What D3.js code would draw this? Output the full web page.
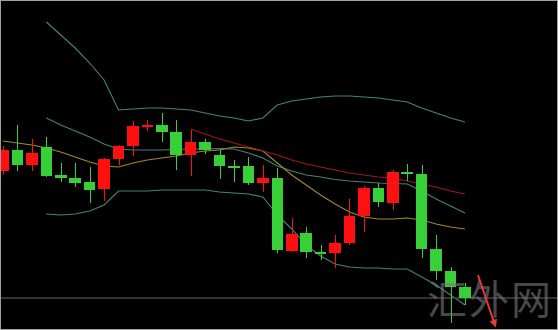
<!DOCTYPE html>
<html lang="zh">
<head>
  <meta charset="UTF-8" />
  <title>K线图</title>
  <script src="https://d3js.org/d3.v7.min.js"></script>
  <style>
    html, body {
      margin: 0;
      padding: 0;
      background: #000;
      overflow: hidden;
    }
    svg { display: block; }
    .wick { stroke-width: 1; shape-rendering: crispEdges; }
    .body { shape-rendering: crispEdges; }
  </style>
</head>
<body>
<svg id="chart" width="558" height="330"></svg>
<script>
// price points (no axis shown, so units are arbitrary)
const opens  = [159,180,165,183,155,152,148,141,171,184,203,205,198,175,188,175,164,164,147,152,79,97,78,77,87,114,142,127,158,156,81,59,43];
const highs  = [184,205,191,193,167,167,163,172,185,209,210,217,210,200,191,180,170,173,165,162,112,103,85,95,131,144,147,160,166,165,95,63,47];
const lows   = [155,159,159,153,148,143,127,129,165,174,199,188,160,154,176,151,148,145,138,77,78,72,70,62,85,98,123,120,149,72,50,7,25];
const closes = [180,165,177,154,152,147,140,171,184,204,205,198,175,188,180,164,162,147,152,80,96,78,76,87,114,142,128,158,156,81,59,43,32];

// Bollinger bands, start at bar 3
const bandStart = 3;
const upperBand = [308,295,282,267,250,220,221,222,222,221,220,217,214,212,209,212,225,229,231,233,234,234,233,232,230,228,222,217,212,208];
const midBand   = [212,205,199,193,186,181,180,180,180,180.5,181,181,181.5,181,177,172,164,159,155,153,150.5,149,148,147,146.5,146,139,131,124,117];
const lowerBand = [116,115,116,119,125,139,139,139,140,140,140,140,138,137,136,133,115,101,85,74,66,63,62,62,61,61,53,45,35,25];

// slow MA (red) starts at bar 13, fast MA (yellow) covers all bars
const slowStart = 13;
const slowMA = [201,196,191,187,183,179,175,170,166,163,160,157,155,153,152,149,146,143,139,136];
const fastMA = [189,187,185,182,178,173,168,164,163,167,170,172,174,177,179,180,183,182,179,167,155,145,135,126,118,113,111,111,112,110,106,103,101];

// arrow annotation (bar index, price)
const arrowFrom = [32.9, 55];
const arrowTo   = [34.1, 4];

const watermark = "汇外网";

const svg = d3.select("#chart");
const width = +svg.attr("width"), height = +svg.attr("height");

const bars = d3.range(opens.length);
const x = d3.scaleBand().domain(bars).range([-4.2, 472.2]).paddingInner(0.2).paddingOuter(0.1);
const xc = d3.scaleLinear().domain([0, 1]).range([x(0) + x.bandwidth() / 2, x(1) + x.bandwidth() / 2]);
const y = d3.scaleLinear().domain([0, 330]).range([height, 0]);

svg.append("rect").attr("width", width).attr("height", height).attr("fill", "#000");

function series(vals, start) {
  return vals.map((v, k) => ({ i: k + start, v }));
}
const line = d3.line().x(d => xc(d.i)).y(d => y(d.v)).curve(d3.curveLinear);

const lines = svg.append("g").attr("fill", "none");
[upperBand, midBand, lowerBand].forEach(b => {
  lines.append("path").datum(series(b, bandStart)).attr("d", line)
    .attr("stroke", "#3f8676").attr("stroke-width", 1.1);
});
lines.append("path").datum(series(fastMA, 0)).attr("d", line)
  .attr("stroke", "#a38a22").attr("stroke-width", 1.1);
lines.append("path").datum(series(slowMA, slowStart)).attr("d", line)
  .attr("stroke", "#a01818").attr("stroke-width", 1.1);

// bid line at last close
svg.append("line")
  .attr("x1", 0).attr("x2", width)
  .attr("y1", y(closes[closes.length - 1])).attr("y2", y(closes[closes.length - 1]))
  .attr("stroke", "#444").attr("stroke-width", 1.5);

const candles = svg.append("g");
const up = i => closes[i] >= opens[i];
const col = i => up(i) ? "#ff1010" : "#38d038";

candles.selectAll("line.wick").data(bars).enter().append("line")
  .attr("class", "wick")
  .attr("x1", i => Math.round(xc(i)) + 0.5).attr("x2", i => Math.round(xc(i)) + 0.5)
  .attr("y1", i => y(highs[i])).attr("y2", i => y(lows[i]))
  .attr("stroke", col);

candles.selectAll("rect.body").data(bars).enter().append("rect")
  .attr("class", "body")
  .attr("x", i => x(i))
  .attr("width", x.bandwidth())
  .attr("y", i => y(Math.max(opens[i], closes[i])))
  .attr("height", i => Math.max(2, Math.abs(y(opens[i]) - y(closes[i]))))
  .attr("fill", col);

// watermark
svg.append("text")
  .attr("x", 427).attr("y", 314)
  .attr("font-family", "'Noto Sans CJK SC', sans-serif")
  .attr("font-size", 40)
  .attr("letter-spacing", 2)
  .attr("fill", "#7a7a7a")
  .attr("fill-opacity", 0.6)
  .text(watermark);

// arrow
svg.append("defs").append("marker")
  .attr("id", "head").attr("viewBox", "0 0 10 10")
  .attr("refX", 8).attr("refY", 5)
  .attr("markerWidth", 4).attr("markerHeight", 4)
  .attr("orient", "auto")
  .append("path").attr("d", "M0,0L10,5L0,10z").attr("fill", "#e83a3a");

svg.append("line")
  .attr("x1", xc(arrowFrom[0])).attr("y1", y(arrowFrom[1]))
  .attr("x2", xc(arrowTo[0])).attr("y2", y(arrowTo[1]))
  .attr("stroke", "#e83a3a").attr("stroke-width", 2)
  .attr("marker-end", "url(#head)");

// frame
svg.append("rect")
  .attr("x", 0.5).attr("y", 0.5).attr("width", width - 1).attr("height", height - 1)
  .attr("fill", "none").attr("stroke", "#a0a0a0").attr("stroke-width", 1);
</script>
</body>
</html>
